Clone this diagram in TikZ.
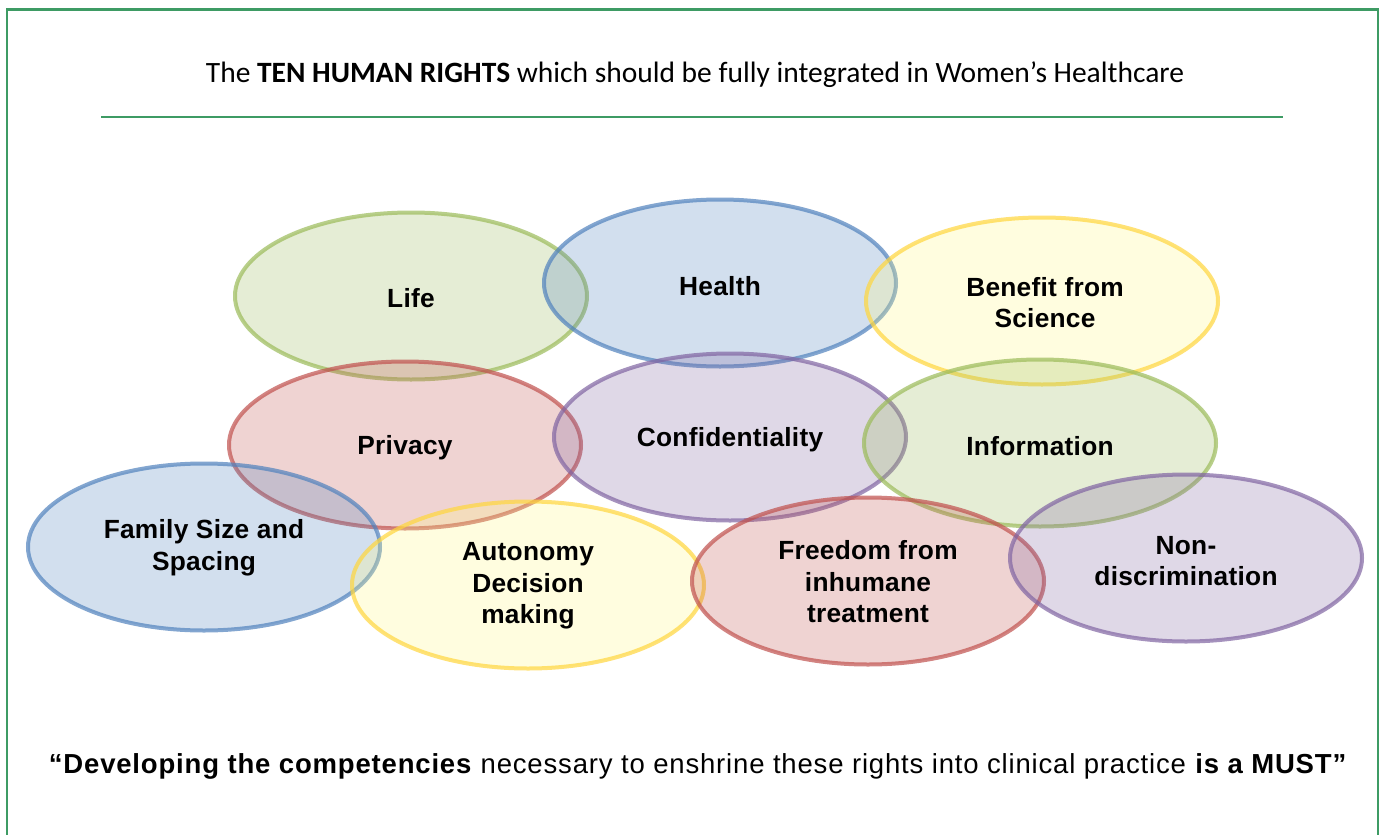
\documentclass[tikz,border=0pt]{standalone}
\usepackage{fontspec}
\setmainfont{Liberation Sans}
\newfontfamily\titlefont{Carlito}
\newfontfamily\spacedfont[LetterSpace=3]{Liberation Sans}
\newfontfamily\lblfont[LetterSpace=1]{Liberation Sans}
\usetikzlibrary{shapes.geometric}
\definecolor{frameGreen}{RGB}{62,155,100}
\definecolor{cGreen}{RGB}{155,187,89}
\definecolor{cBlue}{RGB}{79,129,189}
\definecolor{cYellow}{RGB}{255,214,60}
\definecolor{cYellowFill}{RGB}{255,250,130}
\definecolor{cRed}{RGB}{192,80,77}
\definecolor{cPurple}{RGB}{128,100,162}
\tikzset{
  bubble/.style={ellipse, minimum width=352pt, minimum height=167pt, inner sep=0pt,
    line width=4pt, draw opacity=0.7, fill opacity=0.25},
  gbub/.style={bubble, draw=cGreen, fill=cGreen},
  bbub/.style={bubble, draw=cBlue, fill=cBlue},
  ybub/.style={bubble, draw=cYellow, fill=cYellowFill},
  rbub/.style={bubble, draw=cRed, fill=cRed},
  pbub/.style={bubble, draw=cPurple, fill=cPurple},
  lbl/.style={inner sep=0pt, align=center, font=\lblfont\fontsize{26.3}{31.5}\selectfont\bfseries},
}
\begin{document}
\begin{tikzpicture}[x=1pt,y=-1pt]
\useasboundingbox (0,0) rectangle (1381,835);
\fill[white] (0,0) rectangle (1381,835);
\draw[frameGreen, line width=2.5pt] (7,9.5) -- (1378,9.5) -- (1378,845) -- (7,845) -- cycle;
\node[font=\titlefont\fontsize{29.5}{34}\selectfont, anchor=base] (title) at (695,82)
  {The \textbf{TEN HUMAN RIGHTS} which should be fully integrated in Women’s Healthcare};
\coordinate (ruleL) at (101,117);
\coordinate (ruleR) at (1283,117);
\draw[frameGreen, line width=2.5pt] (ruleL) -- (ruleR);

\node[gbub] (life) at (411,296) {};
\node[bbub] (health) at (720,283) {};
\node[ybub] (benefit) at (1042,301) {};
\node[rbub] (privacy) at (405,445) {};
\node[pbub] (conf) at (730,437) {};
\node[gbub] (info) at (1040,443) {};
\node[bbub] (family) at (204,547) {};
\node[ybub] (autonomy) at (528,585) {};
\node[rbub] (freedom) at (868,581) {};
\node[pbub] (nondisc) at (1186,558) {};

\node[lbl] (lifeT) at ([yshift=-2pt]life.center) {Life};
\node[lbl] (healthT) at ([yshift=-3pt]health.center) {Health};
\node[lbl] (benefitT) at ([xshift=3pt,yshift=-1.5pt]benefit.center) {Benefit from\\Science};
\node[lbl] (privacyT) at ([yshift=-3pt]privacy.center) {Privacy};
\node[lbl] (confT) at ([yshift=-3pt]conf.center) {Confidentiality};
\node[lbl] (infoT) at ([yshift=-3pt]info.center) {Information};
\node[lbl] (familyT) at ([yshift=-1pt]family.center) {Family Size and\\Spacing};
\node[lbl] (autonomyT) at ([yshift=-1pt]autonomy.center) {Autonomy\\Decision\\making};
\node[lbl] (freedomT) at ([yshift=-1pt]freedom.center) {Freedom from\\inhumane\\treatment};
\node[lbl] (nondiscT) at ([yshift=-3pt]nondisc.center) {Non-\\discrimination};

\node[font=\spacedfont\fontsize{27.5}{32}\selectfont, anchor=base] (motto) at (698,773)
  {\textbf{“Developing the competencies} necessary to enshrine these rights into clinical practice \textbf{is a MUST”}};
\end{tikzpicture}
\end{document}
